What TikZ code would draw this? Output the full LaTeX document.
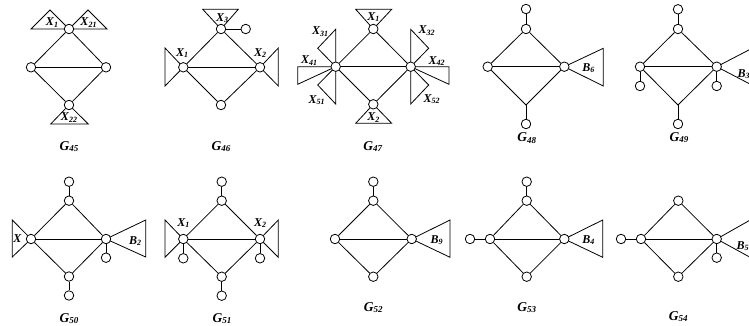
\documentclass[tikz,border=0pt]{standalone}
\usepackage{fontspec}
\setmainfont{Liberation Serif}
\newcommand\xl[2]{{\fontsize{12}{12}\selectfont\bfseries\itshape #1\raisebox{-0.25ex}{\fontsize{8}{8}\selectfont #2}}}
\newcommand\gl[1]{{\fontsize{13.5}{13.5}\selectfont\bfseries\itshape G\raisebox{-0.2ex}{\fontsize{9}{9}\selectfont #1}}}
\begin{document}
\begin{tikzpicture}[x=1pt,y=-1pt,
  v/.style={circle,draw,fill=white,inner sep=0pt,minimum size=9.5pt,line width=0.8pt},
  e/.style={line width=0.8pt},
  tri/.style={line width=0.8pt,line join=miter},
  lab/.style={inner sep=0pt},
  glab/.style={inner sep=0pt,anchor=base}]
\useasboundingbox (0,0) rectangle (749,326);
\clip (0,0) rectangle (749,326);

% ---------------- G45
\coordinate (p45t) at (69,29);
\coordinate (p45l) at (31,67.3);
\coordinate (p45r) at (106,67.3);
\coordinate (p45b) at (69,105);
\draw[tri] (31,29) -- (50,10) -- (p45t) -- cycle;
\draw[tri] (p45t) -- (88,10) -- (107,29) -- cycle;
\draw[tri] (p45b) -- (50.7,124) -- (88.3,124) -- cycle;
\node[v] (n45t) at (p45t) {};
\node[v] (n45l) at (p45l) {};
\node[v] (n45r) at (p45r) {};
\node[v] (n45b) at (p45b) {};
\draw[e] (n45t) -- (n45l) -- (n45b) -- (n45r) -- (n45t);
\draw[e] (n45l) -- (n45r);
\node[lab] (l45a) at (52,22.5) {\xl{X}{1}};
\node[lab] (l45b) at (88.5,22.5) {\xl{X}{21}};
\node[lab] (l45c) at (69,117.5) {\xl{X}{22}};
\node[glab] (g45) at (69,150) {\gl{45}};

% ---------------- G46
\coordinate (p46t) at (221,29);
\coordinate (p46l) at (183.3,67.3);
\coordinate (p46r) at (260,67.3);
\coordinate (p46b) at (221,105);
\draw[tri] (p46t) -- (202.7,9.3) -- (238.3,9.3) -- cycle;
\draw[tri] (p46l) -- (165,48) -- (165,86) -- cycle;
\draw[tri] (p46r) -- (278.3,48) -- (278.3,86) -- cycle;
\node[v] (n46t) at (p46t) {};
\node[v] (n46l) at (p46l) {};
\node[v] (n46r) at (p46r) {};
\node[v] (n46b) at (p46b) {};
\node[v] (n46p) at (245.7,29) {};
\draw[e] (n46t) -- (n46l) -- (n46b) -- (n46r) -- (n46t);
\draw[e] (n46l) -- (n46r);
\draw[e] (n46t) -- (n46p);
\node[lab] (l46a) at (222,18) {\xl{X}{3}};
\node[lab] (l46b) at (182,53) {\xl{X}{1}};
\node[lab] (l46c) at (260,53) {\xl{X}{2}};
\node[glab] (g46) at (221,150) {\gl{46}};

% ---------------- G47
\coordinate (p47t) at (373.3,29);
\coordinate (p47l) at (335.7,66.7);
\coordinate (p47r) at (410.7,66.7);
\coordinate (p47b) at (373.3,104.3);
\draw[tri] (p47t) -- (355.7,9.3) -- (391.7,9.3) -- cycle;
\draw[tri] (p47b) -- (355.7,123.3) -- (391.7,123.3) -- cycle;
\draw[tri] (p47l) -- (335.7,29.3) -- (317.7,48.3) -- cycle;
\draw[tri] (p47l) -- (297.7,66.7) -- (297.7,84.3) -- cycle;
\draw[tri] (p47l) -- (335.7,104) -- (317.7,85) -- cycle;
\draw[tri] (p47r) -- (410.7,29.3) -- (428.7,48.3) -- cycle;
\draw[tri] (p47r) -- (449,66.7) -- (449,84.3) -- cycle;
\draw[tri] (p47r) -- (410.7,104) -- (428.7,85) -- cycle;
\node[v] (n47t) at (p47t) {};
\node[v] (n47l) at (p47l) {};
\node[v] (n47r) at (p47r) {};
\node[v] (n47b) at (p47b) {};
\draw[e] (n47t) -- (n47l) -- (n47b) -- (n47r) -- (n47t);
\draw[e] (n47l) -- (n47r);
\node[lab] (l47a) at (373.3,17) {\xl{X}{1}};
\node[lab] (l47b) at (373.3,117.5) {\xl{X}{2}};
\node[lab] (l47c) at (320,31.7) {\xl{X}{31}};
\node[lab] (l47d) at (309,60.7) {\xl{X}{41}};
\node[lab] (l47e) at (316.7,100) {\xl{X}{51}};
\node[lab] (l47f) at (426.7,30.7) {\xl{X}{32}};
\node[lab] (l47g) at (436.7,61) {\xl{X}{42}};
\node[lab] (l47h) at (431.7,99.3) {\xl{X}{52}};
\node[glab] (g47) at (372.7,150) {\gl{47}};

% ---------------- G48
\coordinate (p48t) at (526,29);
\coordinate (p48l) at (487.7,66.7);
\coordinate (p48r) at (564.3,66.7);
\coordinate (c48b) at (526,105);
\draw[tri] (p48r) -- (603.3,48.3) -- (603.3,86) -- cycle;
\node[v] (n48q) at (526,9) {};
\node[v] (n48t) at (p48t) {};
\node[v] (n48l) at (p48l) {};
\node[v] (n48r) at (p48r) {};
\node[v] (n48p) at (526,124) {};
\draw[e] (n48t) -- (n48l) -- (c48b) -- (n48r) -- (n48t);
\draw[e] (n48l) -- (n48r);
\draw[e] (n48t) -- (n48q);
\draw[e] (c48b) -- (n48p);
\node[lab] (l48a) at (588.3,68.3) {\xl{B}{6}};
\node[glab] (g48) at (526.7,142) {\gl{48}};

% ---------------- G49
\coordinate (p49t) at (678,29);
\coordinate (p49l) at (640,66.7);
\coordinate (p49r) at (716.7,66.7);
\coordinate (c49b) at (678,105);
\coordinate (c49u) at (770,39);
\coordinate (c49d) at (770,94.5);
\draw[tri] (c49u) -- (p49r) -- (c49d);
\node[v] (n49q) at (678,9.3) {};
\node[v] (n49t) at (p49t) {};
\node[v] (n49l) at (p49l) {};
\node[v] (n49r) at (p49r) {};
\node[v] (n49p) at (678,124) {};
\node[v] (n49lp) at (640,86) {};
\node[v] (n49rp) at (716.7,86) {};
\draw[e] (n49t) -- (n49l) -- (c49b) -- (n49r) -- (n49t);
\draw[e] (n49l) -- (n49r);
\draw[e] (n49t) -- (n49q);
\draw[e] (c49b) -- (n49p);
\draw[e] (n49l) -- (n49lp);
\draw[e] (n49r) -- (n49rp);
\node[lab,anchor=west] (l49a) at (737.5,74) {\xl{B}{3}};
\node[glab] (g49) at (679,141.5) {\gl{49}};

% ---------------- G50
\coordinate (p50t) at (69,200.7);
\coordinate (p50l) at (31,239);
\coordinate (p50r) at (106,239);
\coordinate (p50b) at (69,276.5);
\draw[tri] (p50l) -- (12.3,220) -- (12.3,257) -- cycle;
\draw[tri] (p50r) -- (145.7,220) -- (145.7,257) -- cycle;
\node[v] (n50q) at (69,181.7) {};
\node[v] (n50t) at (p50t) {};
\node[v] (n50l) at (p50l) {};
\node[v] (n50r) at (p50r) {};
\node[v] (n50b) at (p50b) {};
\node[v] (n50p) at (69,295.5) {};
\node[v] (n50rp) at (106,257.7) {};
\draw[e] (n50t) -- (n50l) -- (n50b) -- (n50r) -- (n50t);
\draw[e] (n50l) -- (n50r);
\draw[e] (n50t) -- (n50q);
\draw[e] (n50b) -- (n50p);
\draw[e] (n50r) -- (n50rp);
\node[lab] (l50a) at (17.5,239) {\xl{X}{}};
\node[lab] (l50b) at (135,241) {\xl{B}{2}};
\node[glab] (g50) at (69,322.5) {\gl{50}};

% ---------------- G51
\coordinate (p51t) at (221.7,200.7);
\coordinate (p51l) at (183.3,239);
\coordinate (p51r) at (260,239);
\coordinate (p51b) at (221.7,276.7);
\draw[tri] (p51l) -- (165,220) -- (165,257.3) -- cycle;
\draw[tri] (p51r) -- (278.3,220) -- (278.3,257.3) -- cycle;
\node[v] (n51q) at (221.7,181.7) {};
\node[v] (n51t) at (p51t) {};
\node[v] (n51l) at (p51l) {};
\node[v] (n51r) at (p51r) {};
\node[v] (n51b) at (p51b) {};
\node[v] (n51p) at (221.7,295.7) {};
\node[v] (n51lp) at (183.3,258.3) {};
\node[v] (n51rp) at (260,258.3) {};
\draw[e] (n51t) -- (n51l) -- (n51b) -- (n51r) -- (n51t);
\draw[e] (n51l) -- (n51r);
\draw[e] (n51t) -- (n51q);
\draw[e] (n51b) -- (n51p);
\draw[e] (n51l) -- (n51lp);
\draw[e] (n51r) -- (n51rp);
\node[lab] (l51a) at (183.3,223.3) {\xl{X}{1}};
\node[lab] (l51b) at (260,223.3) {\xl{X}{2}};
\node[glab] (g51) at (222,322.5) {\gl{51}};

% ---------------- G52
\coordinate (p52t) at (373.3,200.7);
\coordinate (p52l) at (335,239);
\coordinate (p52r) at (411.7,239);
\coordinate (p52b) at (373.3,276.7);
\draw[tri] (p52r) -- (450,220) -- (450,257.3) -- cycle;
\node[v] (n52q) at (373.3,181.7) {};
\node[v] (n52t) at (p52t) {};
\node[v] (n52l) at (p52l) {};
\node[v] (n52r) at (p52r) {};
\node[v] (n52b) at (p52b) {};
\draw[e] (n52t) -- (n52l) -- (n52b) -- (n52r) -- (n52t);
\draw[e] (n52l) -- (n52r);
\draw[e] (n52t) -- (n52q);
\node[lab] (l52a) at (436.7,240) {\xl{B}{9}};
\node[glab] (g52) at (373.3,311.5) {\gl{52}};

% ---------------- G53
\coordinate (p53t) at (526.7,200.7);
\coordinate (p53l) at (490,239);
\coordinate (p53r) at (564.3,239);
\coordinate (p53b) at (526.7,276.7);
\draw[tri] (p53r) -- (602.7,220) -- (602.7,257.3) -- cycle;
\node[v] (n53q) at (526.7,181.7) {};
\node[v] (n53t) at (p53t) {};
\node[v] (n53l) at (p53l) {};
\node[v] (n53r) at (p53r) {};
\node[v] (n53b) at (p53b) {};
\node[v] (n53lp) at (470,239) {};
\draw[e] (n53t) -- (n53l) -- (n53b) -- (n53r) -- (n53t);
\draw[e] (n53l) -- (n53r);
\draw[e] (n53t) -- (n53q);
\draw[e] (n53l) -- (n53lp);
\node[lab] (l53a) at (588.3,240) {\xl{B}{4}};
\node[glab] (g53) at (526.7,311.5) {\gl{53}};

% ---------------- G54
\coordinate (p54t) at (678.3,200.7);
\coordinate (p54l) at (641,239);
\coordinate (p54r) at (716.7,239);
\coordinate (p54b) at (678.3,276.7);
\coordinate (c54u) at (770,208.8);
\coordinate (c54d) at (770,268.2);
\draw[tri] (c54u) -- (p54r) -- (c54d);
\node[v] (n54t) at (p54t) {};
\node[v] (n54l) at (p54l) {};
\node[v] (n54r) at (p54r) {};
\node[v] (n54b) at (p54b) {};
\node[v] (n54lp) at (621,239) {};
\node[v] (n54rp) at (716.7,257.7) {};
\draw[e] (n54t) -- (n54l) -- (n54b) -- (n54r) -- (n54t);
\draw[e] (n54l) -- (n54r);
\draw[e] (n54l) -- (n54lp);
\draw[e] (n54r) -- (n54rp);
\node[lab,anchor=west] (l54a) at (736.5,246) {\xl{B}{5}};
\node[glab] (g54) at (678.3,320.5) {\gl{54}};
\end{tikzpicture}
\end{document}
